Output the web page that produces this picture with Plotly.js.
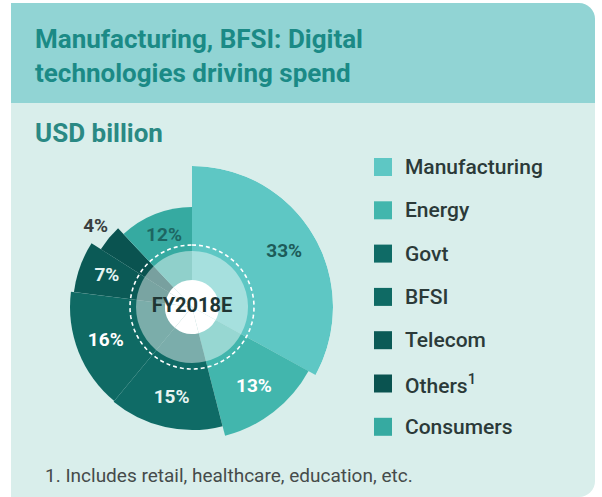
<!DOCTYPE html>
<html>
<head>
<meta charset="utf-8">
<script src="https://cdn.plot.ly/plotly-3.0.1.min.js"></script>
<style>
  html, body { margin: 0; padding: 0; background: #ffffff; }
  #wrap { position: relative; width: 602px; height: 497px; overflow: hidden; }
  #head { position: absolute; left: 11px; top: 3px; width: 584px; height: 100px; background: #91d4d4; border-top-right-radius: 16px; }
  #panel { position: absolute; left: 11px; top: 103px; width: 584px; height: 394px; background: #d9eeeb; border-bottom-right-radius: 16px; }
  #chart { position: absolute; left: 0; top: 0; width: 602px; height: 497px; }
</style>
</head>
<body>
<div id="wrap">
  <div id="head"></div>
  <div id="panel"></div>
  <div id="chart"></div>
</div>
<script>
// Share of digital spend by sector, FY2018E
let sectors = ["Manufacturing", "Energy", "Govt", "BFSI", "Telecom", "Others<sup>1</sup>", "Consumers"];
let shares = [33, 13, 15, 16, 7, 4, 12];
// outer radius of each slice
let radii = [141, 133, 123, 122, 119, 108, 100];
let centerLabel = "FY2018E";
let footnote = "1. Includes retail, healthcare, education, etc.";

// colours of the slices and legend boxes
let colors = ["#5ec7c4", "#42b6ad", "#0f6b66", "#0f6a64", "#0b5a56", "#0a5350", "#36aaa1"];
let labelColors = ["#1d5c59", "#ffffff", "#e6f4f2", "#ffffff", "#e6f4f2", "#3a3f3f", "#1d6662"];

const W = 602, H = 497;
function px(x) { return x / W; }
function py(y) { return 1 - y / H; }

// angles of each slice (clockwise from 12 o'clock)
let mids = [];
let widths = [];
let cum = 0;
for (let i = 0; i < shares.length; i++) {
  widths.push(shares[i] * 3.6);
  mids.push((cum + shares[i] / 2) * 3.6);
  cum += shares[i];
}

let data = [];

// the slices
for (let i = 0; i < sectors.length; i++) {
  data.push({
    type: "barpolar",
    r: [radii[i]],
    theta: [mids[i]],
    width: [widths[i]],
    name: sectors[i],
    marker: { color: colors[i], line: { width: 0 } },
    showlegend: false,
    hoverinfo: "skip"
  });
}

// lighter inner ring over the slices
data.push({
  type: "barpolar",
  r: mids.map(() => 56),
  theta: mids,
  width: widths,
  marker: { color: "rgba(255,255,255,0.45)", line: { width: 0 } },
  showlegend: false,
  hoverinfo: "skip"
});

// white hole in the middle
data.push({
  type: "barpolar",
  r: mids.map(() => 27),
  theta: mids,
  width: widths,
  marker: { color: "#ffffff", line: { width: 0 } },
  showlegend: false,
  hoverinfo: "skip"
});

// dashed white ring
let ringTheta = [];
for (let a = 0; a <= 360; a += 3) ringTheta.push(a);
data.push({
  type: "scatterpolar",
  mode: "lines",
  r: ringTheta.map(() => 62),
  theta: ringTheta,
  line: { color: "#ffffff", width: 1.6, dash: "4px,3px" },
  showlegend: false,
  hoverinfo: "skip"
});

// percent labels
let labelR = radii.map((r, i) => shares[i] < 5 ? r + 17 : r * 0.76);
data.push({
  type: "scatterpolar",
  mode: "text",
  r: labelR,
  theta: mids,
  text: shares.map(v => v + "%"),
  textfont: { family: "Roboto", size: 19, color: labelColors, weight: "bold" },
  showlegend: false,
  hoverinfo: "skip"
});

// centre label
data.push({
  type: "scatterpolar",
  mode: "text",
  r: [0],
  theta: [0],
  text: [centerLabel],
  textfont: { family: "Roboto", size: 20, color: "#203634", weight: "bold" },
  showlegend: false,
  hoverinfo: "skip"
});

// legend drawn as boxes + text
let shapes = [];
let annotations = [];
for (let i = 0; i < sectors.length; i++) {
  let yc = 167 + i * 43.3;
  shapes.push({
    type: "rect", xref: "paper", yref: "paper",
    x0: px(374), x1: px(392), y0: py(yc - 9), y1: py(yc + 9),
    fillcolor: colors[i], line: { width: 0 }
  });
  annotations.push({
    xref: "paper", yref: "paper", x: px(403), y: py(yc),
    xanchor: "left", yanchor: "middle", showarrow: false,
    text: sectors[i],
    font: { family: "Roboto", size: 21, color: "#2b3a39", weight: 500 }
  });
}

annotations.push({
  xref: "paper", yref: "paper", x: px(33), y: py(133),
  xanchor: "left", yanchor: "middle", showarrow: false,
  text: "USD billion",
  font: { family: "Roboto", size: 26, color: "#2a8984", weight: "bold" }
});

annotations.push({
  xref: "paper", yref: "paper", x: px(43), y: py(475),
  xanchor: "left", yanchor: "middle", showarrow: false,
  text: footnote,
  font: { family: "Roboto", size: 19, color: "#454b4a" }
});

// heading, two lines
annotations.push({
  xref: "paper", yref: "paper", x: px(33), y: py(56),
  xanchor: "left", yanchor: "middle", align: "left", showarrow: false,
  text: "Manufacturing, BFSI: Digital<br>technologies driving spend",
  font: { family: "Roboto", size: 26, color: "#1b8a86", weight: "bold" }
});

let layout = {
  width: W,
  height: H,
  margin: { l: 0, r: 0, t: 0, b: 0 },
  paper_bgcolor: "rgba(0,0,0,0)",
  plot_bgcolor: "rgba(0,0,0,0)",
  showlegend: false,
  polar: {
    domain: { x: [px(51), px(333)], y: [py(448), py(166)] },
    bgcolor: "rgba(0,0,0,0)",
    barmode: "overlay",
    bargap: 0,
    angularaxis: { rotation: 90, direction: "clockwise", visible: false },
    radialaxis: { range: [0, 141], visible: false }
  },
  shapes: shapes,
  annotations: annotations
};

Plotly.newPlot("chart", data, layout, { staticPlot: true });
</script>
</body>
</html>
